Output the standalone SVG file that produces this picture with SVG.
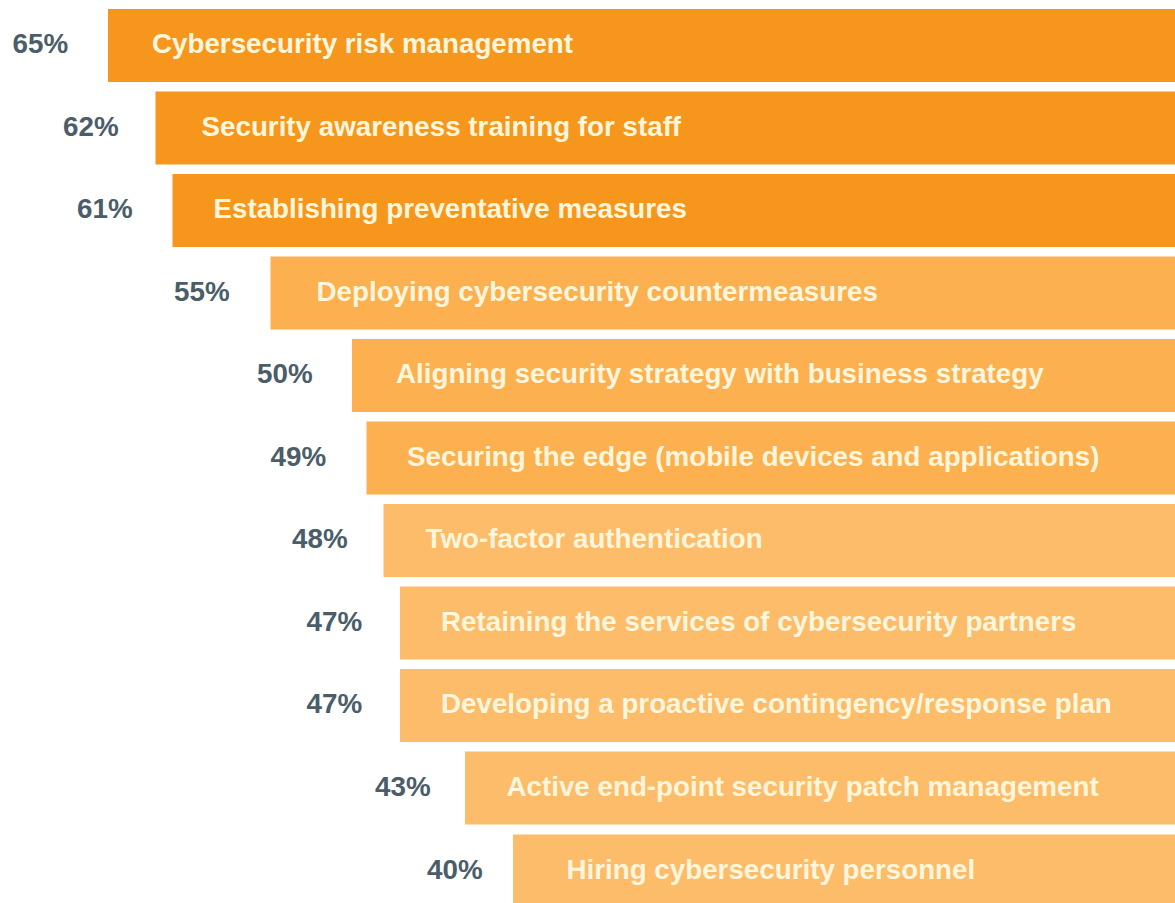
<svg xmlns="http://www.w3.org/2000/svg" width="1175" height="903" viewBox="0 0 1175 903">
<style>
.d{fill:#F7961D}.m{fill:#FCB04F}.l{fill:#FDBC69}
.t{font-family:"Liberation Sans",Arial,sans-serif;font-weight:bold;font-size:27.75px;fill:#FFF6DC}
.p{font-family:"Liberation Sans",Arial,sans-serif;font-weight:bold;font-size:27.8px;fill:#4A5D69}
</style>
<rect width="1175" height="903" fill="#FFFFFF"/>
<g id="bar1"><rect class="d" x="108" y="9" width="1067" height="73"/><text class="p" x="12.5" y="53">65%</text><text class="t" x="152" y="53">Cybersecurity risk management</text></g>
<g id="bar2"><rect class="d" x="155.5" y="91.5" width="1019.5" height="73"/><text class="p" x="63" y="135.5">62%</text><text class="t" x="201.5" y="135.5">Security awareness training for staff</text></g>
<g id="bar3"><rect class="d" x="172.5" y="174" width="1002.5" height="73"/><text class="p" x="77" y="218">61%</text><text class="t" x="213.5" y="218">Establishing preventative measures</text></g>
<g id="bar4"><rect class="m" x="270.5" y="256.5" width="904.5" height="73"/><text class="p" x="174" y="300.5">55%</text><text class="t" x="316.5" y="300.5">Deploying cybersecurity countermeasures</text></g>
<g id="bar5"><rect class="m" x="352" y="339" width="823" height="73"/><text class="p" x="257" y="383">50%</text><text class="t" x="396" y="383">Aligning security strategy with business strategy</text></g>
<g id="bar6"><rect class="m" x="366.5" y="421.5" width="808.5" height="73"/><text class="p" x="270.5" y="465.5">49%</text><text class="t" x="407" y="465.5">Securing the edge (mobile devices and applications)</text></g>
<g id="bar7"><rect class="l" x="383.5" y="504" width="791.5" height="73"/><text class="p" x="292" y="548">48%</text><text class="t" x="425.5" y="548">Two-factor authentication</text></g>
<g id="bar8"><rect class="l" x="400" y="586.5" width="775" height="73"/><text class="p" x="306.5" y="630.5">47%</text><text class="t" x="441" y="630.5">Retaining the services of cybersecurity partners</text></g>
<g id="bar9"><rect class="l" x="400" y="669" width="775" height="73"/><text class="p" x="306.5" y="713">47%</text><text class="t" x="441" y="713">Developing a proactive contingency/response plan</text></g>
<g id="bar10"><rect class="l" x="465" y="751.5" width="710" height="73"/><text class="p" x="375" y="795.5">43%</text><text class="t" x="506.5" y="795.5">Active end-point security patch management</text></g>
<g id="bar11"><rect class="l" x="513" y="834.5" width="662" height="68.5"/><text class="p" x="427" y="878.5">40%</text><text class="t" x="566.5" y="878.5">Hiring cybersecurity personnel</text></g>
<g id="connectors"/>
</svg>
